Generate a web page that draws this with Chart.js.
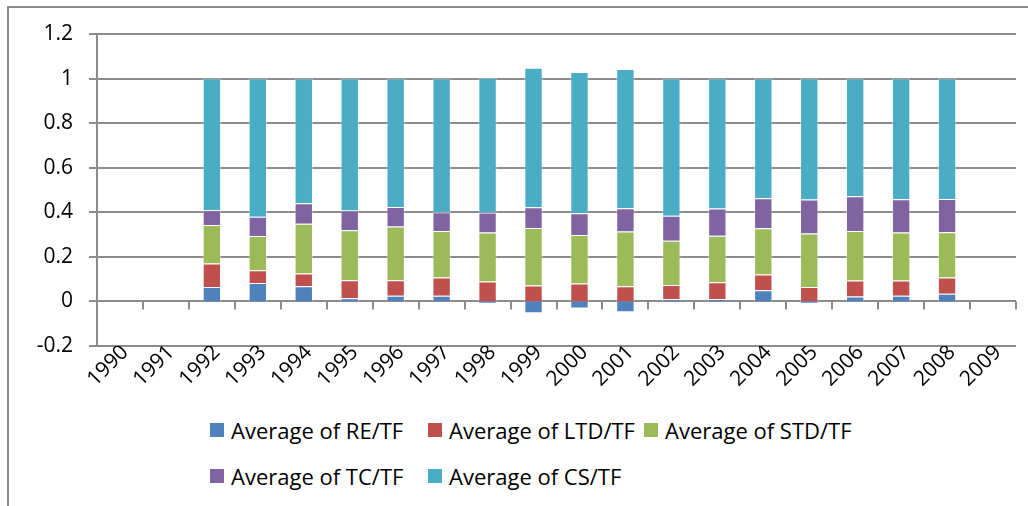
<!DOCTYPE html>
<html>
<head>
<meta charset="utf-8">
<script src="https://cdn.jsdelivr.net/npm/chart.js@4.4.1/dist/chart.umd.min.js"></script>
<style>
    html, body { margin: 0; padding: 0; background: #fff; }
    body { width: 1028px; height: 506px; position: relative; overflow: hidden; font-family: "Open Sans", sans-serif; }
    #frame { position: absolute; left: 7px; top: 6px; width: 1100px; height: 600px; border-left: 2px solid #8c8c8c; border-top: 2px solid #8c8c8c; }
    #chart { position: absolute; left: 0; top: 0; }
    #legend { position: absolute; left: 210px; top: 415px; display: grid; grid-template-columns: 218px 216px 220px; row-gap: 16px; }
    .item { display: flex; align-items: center; height: 30px; line-height: 30px; font-size: 22px; color: #000; white-space: nowrap; }
    .box { width: 14px; height: 14px; margin-right: 7px; flex: none; }
</style>
</head>
<body>
<div id="frame"></div>
<canvas id="chart" width="1028" height="400"></canvas>
<div id="legend"></div>
<script>
const years = ['1990', '1991', '1992', '1993', '1994', '1995', '1996', '1997', '1998', '1999',
               '2000', '2001', '2002', '2003', '2004', '2005', '2006', '2007', '2008', '2009'];

const reTF  = [null, null, 0.065, 0.083, 0.068, 0.014, 0.026, 0.026, -0.010, -0.053,
               -0.032, -0.049, 0.010, 0.011, 0.050, -0.010, 0.022, 0.025, 0.035, null];
const ltdTF = [null, null, 0.105, 0.057, 0.057, 0.081, 0.069, 0.081, 0.089, 0.071,
               0.080, 0.068, 0.064, 0.075, 0.071, 0.065, 0.072, 0.069, 0.072, null];
const stdTF = [null, null, 0.173, 0.154, 0.224, 0.224, 0.241, 0.209, 0.220, 0.259,
               0.218, 0.246, 0.198, 0.209, 0.207, 0.240, 0.222, 0.215, 0.203, null];
const tcTF  = [null, null, 0.066, 0.086, 0.091, 0.089, 0.088, 0.084, 0.090, 0.093,
               0.098, 0.104, 0.112, 0.122, 0.135, 0.152, 0.156, 0.150, 0.150, null];
const csTF  = [null, null, 0.591, 0.620, 0.560, 0.592, 0.576, 0.600, 0.605, 0.626,
               0.633, 0.625, 0.616, 0.583, 0.537, 0.543, 0.528, 0.541, 0.540, null];

const seriesNames = ['Average of RE/TF', 'Average of LTD/TF', 'Average of STD/TF', 'Average of TC/TF', 'Average of CS/TF'];
const seriesColors = ['#4f81bd', '#c0504d', '#9bbb59', '#8064a2', '#4bacc6'];
const seriesData = [reTF, ltdTF, stdTF, tcTF, csTF];

const gridColor = '#8c8c8c';
const font = { family: '"Open Sans", sans-serif', size: 21 };

// small tick marks hanging under the zero line between categories
const zeroTicks = {
    id: 'zeroTicks',
    afterDatasetsDraw(chart) {
        const x = chart.scales.x, y = chart.scales.y;
        const y0 = y.getPixelForValue(0);
        const n = x.ticks.length;
        const step = (x.right - x.left) / n;
        const ctx = chart.ctx;
        ctx.save();
        ctx.strokeStyle = gridColor;
        ctx.lineWidth = 2;
        ctx.beginPath();
        for (let i = 1; i <= n; i++) {
            const px = Math.round(x.left + i * step);
            ctx.moveTo(px, y0);
            ctx.lineTo(px, y0 + 8);
        }
        ctx.stroke();
        ctx.restore();
    }
};

const chart = new Chart(document.getElementById('chart'), {
    type: 'bar',
    data: {
        labels: years,
        datasets: seriesData.map((d, i) => ({
            label: seriesNames[i],
            data: d,
            backgroundColor: seriesColors[i],
            borderColor: 'rgba(255,255,255,0.45)',
            borderWidth: 1,
            barPercentage: 0.4,
            categoryPercentage: 1
        }))
    },
    options: {
        responsive: false,
        animation: false,
        layout: { padding: { top: 34, right: 12, left: 0, bottom: 0 } },
        plugins: {
            legend: { display: false },
            tooltip: { enabled: false }
        },
        scales: {
            x: {
                stacked: true,
                grid: { display: false },
                border: { display: false },
                ticks: { color: '#000', font: font, maxRotation: 45, minRotation: 45, autoSkip: false, padding: -14, labelOffset: 5 },
                afterFit(scale) { scale.height = 54; }
            },
            y: {
                stacked: true,
                min: -0.2,
                max: 1.2,
                grid: { color: gridColor, lineWidth: 2, tickLength: 8, tickColor: gridColor },
                border: { display: true, color: gridColor, width: 2 },
                ticks: {
                    stepSize: 0.2,
                    color: '#000',
                    font: font,
                    padding: 16,
                    callback: v => String(Math.round(v * 10) / 10)
                },
                afterFit(scale) { scale.width = 97; }
            }
        }
    },
    plugins: [zeroTicks]
});

// legend built from the chart's datasets
const legend = document.getElementById('legend');
chart.data.datasets.forEach(ds => {
    const item = document.createElement('div');
    item.className = 'item';
    item.innerHTML = `<span class="box" style="background:${ds.backgroundColor}"></span><span>${ds.label}</span>`;
    legend.appendChild(item);
});
</script>
</body>
</html>
